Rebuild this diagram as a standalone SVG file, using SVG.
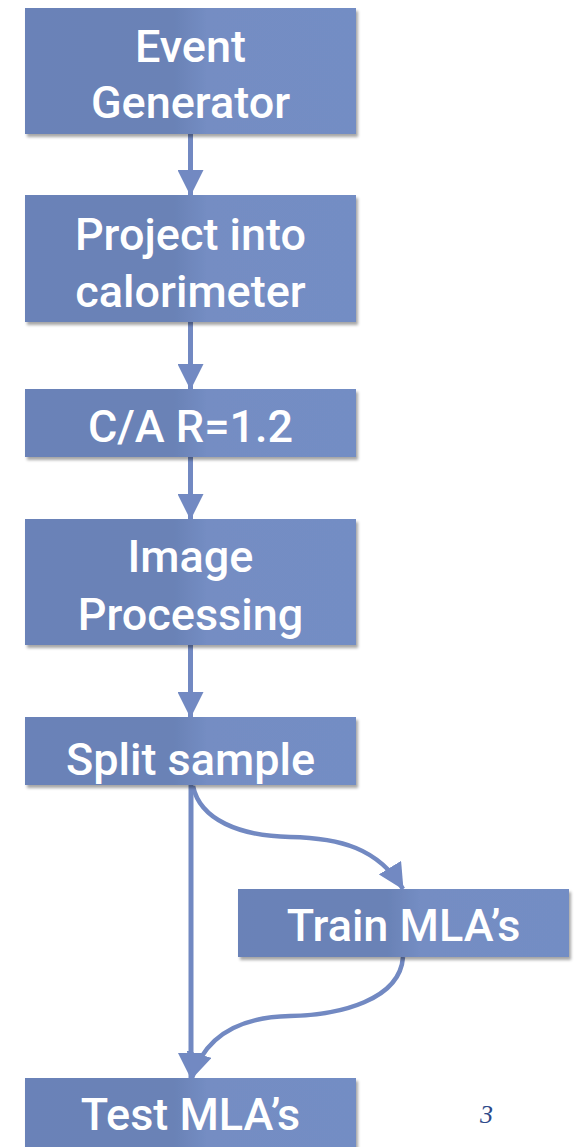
<svg xmlns="http://www.w3.org/2000/svg" width="578" height="1147" viewBox="0 0 578 1147">
  <defs>
    <linearGradient id="boxFill" x1="0" y1="0" x2="1" y2="0">
      <stop offset="0" stop-color="#6b82b8"/>
      <stop offset="0.45" stop-color="#6a82b6"/>
      <stop offset="0.55" stop-color="#748dc3"/>
      <stop offset="1" stop-color="#738dc4"/>
    </linearGradient>
    <filter id="shadow" x="-5%" y="-5%" width="115%" height="125%">
      <feDropShadow dx="2" dy="3" stdDeviation="1.5" flood-color="#000" flood-opacity="0.35"/>
    </filter>
    <marker id="head" markerWidth="26" markerHeight="26" viewBox="0 0 26 26" refX="25" refY="13" orient="auto" markerUnits="userSpaceOnUse">
      <path d="M0,0 L26,13 L0,26 Z" fill="#7289c2"/>
    </marker>
  </defs>
  <style>
    .box { fill: url(#boxFill); filter: url(#shadow); }
    .label { font-family: Roboto, "Liberation Sans", Arial, sans-serif; font-weight: 500; font-size: 45px; fill: #ffffff; text-anchor: middle; }
    .link { fill: none; stroke: #7289c2; stroke-width: 5; }
    .curve { fill: none; stroke: #7289c2; stroke-width: 4.5; }
    .page { font-family: "Liberation Serif", "Times New Roman", serif; font-style: italic; font-size: 26px; fill: #2e4a8a; }
  </style>

  <g id="connectors">
    <line class="link" x1="190.5" y1="134" x2="190.5" y2="195" marker-end="url(#head)"/>
    <line class="link" x1="190.5" y1="322" x2="190.5" y2="389" marker-end="url(#head)"/>
    <line class="link" x1="190.5" y1="457" x2="190.5" y2="519" marker-end="url(#head)"/>
    <line class="link" x1="190.5" y1="645" x2="190.5" y2="717" marker-end="url(#head)"/>
    <line class="link" x1="191" y1="785" x2="191" y2="1078" marker-end="url(#head)"/>
    <path class="curve" d="M193,786 C200,820 240,836 290,837 C340,838 378,848 403,889" marker-end="url(#head)"/>
    <path class="curve" d="M403,957 C400,1000 340,1015 290,1016 C240,1017 205,1035 192,1078" marker-end="url(#head)"/>
  </g>

  <g id="event-generator">
    <rect class="box" x="25" y="8" width="331" height="126"/>
    <text class="label" x="190.5" y="62">Event</text>
    <text class="label" x="190.5" y="118">Generator</text>
  </g>

  <g id="project-calorimeter">
    <rect class="box" x="25" y="195" width="331" height="127"/>
    <text class="label" x="190.5" y="250">Project into</text>
    <text class="label" x="190.5" y="307">calorimeter</text>
  </g>

  <g id="clustering">
    <rect class="box" x="25" y="389" width="331" height="68"/>
    <text class="label" x="190.5" y="442">C/A R=1.2</text>
  </g>

  <g id="image-processing">
    <rect class="box" x="25" y="519" width="331" height="126"/>
    <text class="label" x="190.5" y="572">Image</text>
    <text class="label" x="190.5" y="630">Processing</text>
  </g>

  <g id="split-sample">
    <rect class="box" x="25" y="717" width="331" height="68"/>
    <text class="label" x="190.5" y="775">Split sample</text>
  </g>

  <g id="train">
    <rect class="box" x="238" y="889" width="331" height="68"/>
    <text class="label" x="403.5" y="941">Train MLA’s</text>
  </g>

  <g id="test">
    <rect class="box" x="25" y="1078" width="331" height="80"/>
    <text class="label" x="190.5" y="1130">Test MLA’s</text>
  </g>

  <text class="page" x="480" y="1123">3</text>
</svg>
